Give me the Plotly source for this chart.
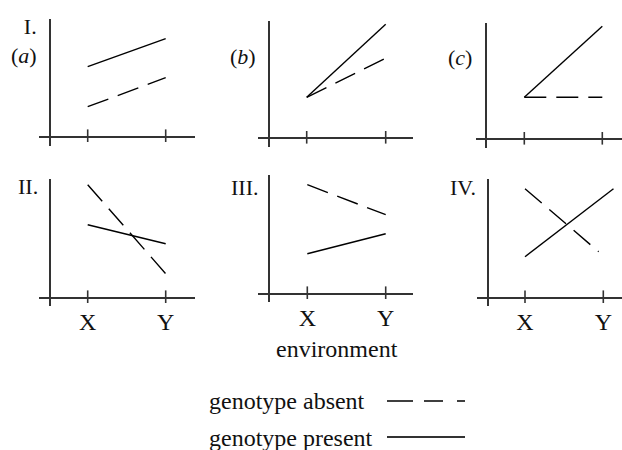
import plotly.graph_objects as go

W, H = 622, 450
FONT = "Liberation Serif"

# ---------------- data ----------------
environment = ["X", "Y"]
env_x = [0, 1]

# heights above the x-axis (arbitrary units), genotype absent (dashed) / present (solid)
a_absent = [2.9, 5.8]
a_present = [6.9, 9.7]
b_absent = [4.0, 7.9]
b_present = [4.0, 11.3]
c_absent = [4.1, 4.1]
c_present = [4.1, 11.2]
ii_absent = [11.2, 2.3]
ii_present = [7.2, 5.3]
iii_absent = [10.8, 7.8]
iii_present = [3.9, 5.9]
iv_absent_x = [0, 0.94]
iv_absent = [10.8, 4.5]
iv_present_x = [0, 1.13]
iv_present = [4.0, 10.8]

panel_labels = ["I.<br>(<i>a</i>)", "(<i>b</i>)", "(<i>c</i>)", "II.", "III.", "IV."]
legend_labels = ["genotype absent", "genotype present"]
axis_title = "environment"

series = [
    (env_x, a_absent, env_x, a_present),
    (env_x, b_absent, env_x, b_present),
    (env_x, c_absent, env_x, c_present),
    (env_x, ii_absent, env_x, ii_present),
    (env_x, iii_absent, env_x, iii_present),
    (iv_absent_x, iv_absent, iv_present_x, iv_present),
]

# ---------------- layout geometry (pixels) ----------------
# yaxis_x, xaxis_y, top, bottom, left, right, X tick, Y tick
geom = [
    (49, 135.7, 19, 146, 39, 195, 87.7, 165.7),
    (268.3, 137.3, 20.7, 146.7, 258.3, 413, 306.7, 385.7),
    (485, 138.3, 22.7, 148.3, 475.7, 622, 524.3, 602.3),
    (49, 296.7, 179.3, 305.7, 39, 195, 87.7, 165.7),
    (268.3, 292.7, 175, 301.7, 258.3, 413, 307.3, 385.7),
    (486.7, 296.7, 179.3, 305.7, 476.7, 622, 525, 603.3),
]
UNIT = 10.0  # px per y unit
AX_COLOR = "#333333"
LINE_COLOR = "#000000"
DASH = "22px,10px"

fig = go.Figure()
layout = {}
for i, ((ax_x, ax_y, top, bot, left, right, xt, yt), (xa, ya, xp, yp)) in enumerate(zip(geom, series)):
    n = "" if i == 0 else str(i + 1)
    s = yt - xt
    bottom_row = i >= 3
    layout["xaxis" + n] = dict(
        domain=[left / W, right / W],
        range=[(left - xt) / s, (right - xt) / s],
        anchor="free", position=1 - ax_y / H,
        showline=True, linecolor=AX_COLOR, linewidth=1.8,
        showgrid=False, zeroline=False, ticks="",
        tickvals=env_x, ticktext=environment,
        showticklabels=bottom_row,
        tickfont=dict(family=FONT, size=24, color="#111"),
        ticklabelstandoff=3,
        fixedrange=True,
    )
    layout["yaxis" + n] = dict(
        domain=[1 - bot / H, 1 - top / H],
        range=[-(bot - ax_y) / UNIT, (ax_y - top) / UNIT],
        anchor="free", position=ax_x / W,
        showline=True, linecolor=AX_COLOR, linewidth=1.8,
        showgrid=False, zeroline=False, ticks="", showticklabels=False,
        fixedrange=True,
    )
    xr, yr = "x" + n, "y" + n
    fig.add_trace(go.Scatter(x=xa, y=ya, mode="lines", xaxis=xr, yaxis=yr,
                             line=dict(color=LINE_COLOR, width=1.4, dash=DASH),
                             showlegend=False, hoverinfo="skip"))
    fig.add_trace(go.Scatter(x=xp, y=yp, mode="lines", xaxis=xr, yaxis=yr,
                             line=dict(color=LINE_COLOR, width=1.4),
                             showlegend=False, hoverinfo="skip"))
    # tick marks crossing the x-axis
    fig.add_trace(go.Scatter(x=env_x, y=[0, 0], mode="markers", xaxis=xr, yaxis=yr,
                             marker=dict(symbol="line-ns", size=9,
                                         line=dict(color=AX_COLOR, width=1.6)),
                             cliponaxis=False, showlegend=False, hoverinfo="skip"))

annotations = []
label_pos = [(39, 41), (258, 56), (474, 57), (40, 186), (260, 187), (478, 187)]
for (lx, ly), txt in zip(label_pos, panel_labels):
    annotations.append(dict(text=txt, x=lx / W, y=1 - ly / H, xref="paper", yref="paper",
                            xanchor="right", yanchor="middle", showarrow=False, align="right",
                            font=dict(family=FONT, size=22, color="#111")))

annotations.append(dict(text=axis_title, x=337 / W, y=1 - 349 / H, xref="paper", yref="paper",
                        xanchor="center", yanchor="middle", showarrow=False,
                        font=dict(family=FONT, size=24, color="#111")))
leg_y = [401, 438]
for t, ly in zip(legend_labels, leg_y):
    annotations.append(dict(text=t, x=207 / W, y=1 - ly / H, xref="paper", yref="paper",
                            xanchor="left", yanchor="middle", showarrow=False,
                            font=dict(family=FONT, size=24, color="#111")))

shapes = [
    dict(type="line", xref="paper", yref="paper", x0=387 / W, x1=465 / W,
         y0=1 - 401 / H, y1=1 - 401 / H,
         line=dict(color=LINE_COLOR, width=1.4, dash="26px,11px,19px,14px,8px,200px")),
    dict(type="line", xref="paper", yref="paper", x0=387 / W, x1=465 / W,
         y0=1 - 437 / H, y1=1 - 437 / H,
         line=dict(color="#333333", width=2)),
]

fig.update_layout(
    width=W, height=H,
    margin=dict(l=0, r=0, t=0, b=0),
    paper_bgcolor="white", plot_bgcolor="white",
    annotations=annotations, shapes=shapes,
    showlegend=False,
    **layout,
)

fig.write_html(
    "out.html",
    config={"displayModeBar": False, "staticPlot": True},
    post_script="document.body.style.margin='0';document.body.style.overflow='hidden';",
)
